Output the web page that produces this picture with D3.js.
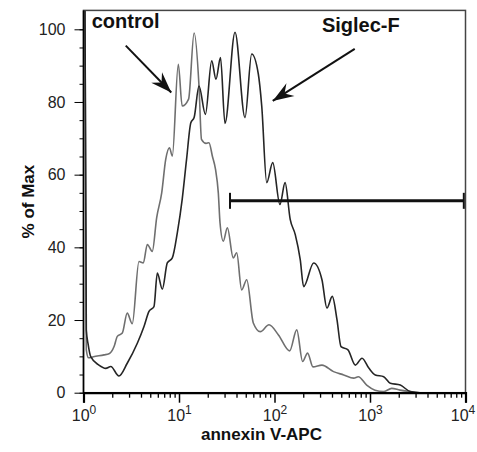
<!DOCTYPE html>
<html>
<head>
<meta charset="utf-8">
<script src="https://cdn.jsdelivr.net/npm/d3@7"></script>
<style>
  body { margin: 0; background: #fff; }
  svg text { font-family: "Liberation Sans", Arial, sans-serif; }
</style>
</head>
<body>
<div id="chart"></div>
<script>
// histogram de annexin V-APC, % of Max
var controlData = [
  [1.02,150],[1.07,11.8],[1.13,9.6],[1.27,9.9],[1.64,10.4],[1.85,10.7],[2.09,12.7],[2.26,15.5],
  [2.55,16.4],[2.87,21.9],[3.24,19.0],[3.81,36.1],[4.23,35.7],[4.66,40.8],[5.25,38.9],[5.84,48.2],
  [6.59,55.0],[7.26,64.2],[7.95,67.4],[8.51,65.1],[9.83,90.4],[10.8,78.9],[12.6,80.8],[14.4,99.0],
  [16.2,84.4],[17.2,69.7],[19.2,68.6],[20.6,68.8],[22.4,65.0],[24.1,61.5],[25.8,55.0],[26.9,46.7],
  [29.1,41.7],[32.1,45.4],[37.0,37.1],[40.2,38.5],[45.3,28.3],[51.2,31.1],[60.0,19.2],[71.0,16.8],
  [87.6,18.7],[110,15.9],[144,11.5],[171,17.3],[197,8.6],[222,10.9],[253,7.1],[314,7.6],
  [415,5.8],[530,4.9],[675,4.0],[754,4.4],[923,2.1],[1128,0.7],[1385,0.3],[1688,1.2],
  [2061,0.7],[2624,0.3],[3339,0],[9880,0]
];

var siglecData = [
  [1.02,150],[1.07,17.3],[1.12,13.2],[1.19,9.9],[1.45,7.6],[1.71,6.7],[1.93,7.2],[2.35,4.6],
  [2.87,8.1],[3.66,13.6],[4.30,18.2],[4.85,22.4],[5.47,23.7],[5.93,32.9],[6.69,28.5],[7.54,35.7],
  [8.51,37.1],[9.60,44.0],[10.8,53.2],[12.0,64.2],[13.3,74.3],[14.4,75.7],[16.2,84.4],[18.9,76.6],
  [22.0,91.3],[24.4,86.3],[27.2,92.2],[30.3,74.1],[38.6,99.2],[49.1,75.7],[57.7,93.2],[67.7,87.7],
  [73.5,78.9],[82.9,57.8],[95.8,63.3],[114,51.8],[129,57.8],[146,47.7],[165,43.5],[186,36.6],
  [202,29.2],[257,35.7],[314,31.1],[354,23.3],[403,26.5],[451,20.1],[497,12.7],[588,11.8],
  [702,7.6],[825,9.5],[976,6.7],[1136,4.9],[1392,4.4],[1632,2.6],[2077,2.1],[2642,0.3],
  [3339,0],[9880,0]
];

var yTicks = [0, 20, 40, 60, 80, 100];
var xTicks = [1, 10, 100, 1000, 10000];
var xExponents = ["0", "1", "2", "3", "4"];

// gate (barra horizontal) y anotaciones
var gate = { x1: 34.2, x2: 9600, y: 52.8 };
var labels = [
  { text: "control", x: 1.22, y: 100.3 },
  { text: "Siglec-F", x: 314, y: 99.2 }
];
var arrows = [
  { x1: 2.77, y1: 95.5, x2: 8.3, y2: 82.6 },
  { x1: 692, y1: 94.6, x2: 95.8, y2: 80.3 }
];

var width = 477, height = 452;

var svg = d3.select("#chart").append("svg")
    .attr("width", width)
    .attr("height", height);

var x = d3.scaleLog().domain([1, 10000]).range([83.5, 465.5]);
var y = d3.scaleLinear().domain([0, 100]).range([392.7, 29.3]);
var yTop = y(105.2);

svg.append("defs").append("clipPath").attr("id", "plotClip")
  .append("rect")
    .attr("x", x(1))
    .attr("y", yTop)
    .attr("width", x(10000) - x(1))
    .attr("height", y(0) - yTop);

// marco
svg.append("rect")
    .attr("x", x(1))
    .attr("y", yTop)
    .attr("width", x(10000) - x(1))
    .attr("height", y(0) - yTop)
    .style("fill", "none")
    .style("stroke", "#444")
    .style("stroke-width", 1.5);

// curvas
var line = d3.line()
    .x(function (d) { return x(d[0]); })
    .y(function (d) { return y(d[1]); })
    .curve(d3.curveMonotoneX);

var plot = svg.append("g").attr("clip-path", "url(#plotClip)");

plot.append("path")
    .datum(controlData)
    .attr("d", line)
    .style("fill", "none")
    .style("stroke", "#6f6f6f")
    .style("stroke-width", 1.6);

plot.append("path")
    .datum(siglecData)
    .attr("d", line)
    .style("fill", "none")
    .style("stroke", "#252525")
    .style("stroke-width", 1.6);

// eje y
var yMinor = svg.append("g")
    .attr("transform", "translate(" + x(1) + ",0)")
    .call(d3.axisLeft(y).tickValues(d3.range(0, 101, 5)).tickSize(4).tickFormat(""));
yMinor.select(".domain").remove();

var yAxis = svg.append("g")
    .attr("transform", "translate(" + x(1) + ",0)")
    .call(d3.axisLeft(y).tickValues(yTicks).tickSize(9).tickPadding(9));
yAxis.select(".domain").attr("d", "M0," + y(0) + "V" + yTop).style("stroke-width", 1.5);
yAxis.selectAll("text").style("font-size", "16px").style("fill", "#222");

// eje x
var minorX = [];
[1, 10, 100, 1000].forEach(function (dec) {
    for (var k = 2; k <= 9; k++) minorX.push(dec * k);
});

var xMinor = svg.append("g")
    .attr("transform", "translate(0," + y(0) + ")")
    .call(d3.axisBottom(x).tickValues(minorX).tickSize(5).tickFormat(""));
xMinor.select(".domain").remove();
xMinor.selectAll("line").style("stroke-width", 1.3);

var xAxis = svg.append("g")
    .attr("transform", "translate(0," + y(0) + ")")
    .call(d3.axisBottom(x).tickValues(xTicks).tickSize(10).tickPadding(7).tickFormat(""));
xAxis.select(".domain").style("stroke-width", 2.2);
xAxis.selectAll("line").style("stroke-width", 1.5);

var xLab = xAxis.selectAll(".tick").append("text")
    .attr("y", 28)
    .attr("x", function (d, i) { return i === xTicks.length - 1 ? -3 : 0; })
    .style("fill", "#222")
    .style("font-size", "16px")
    .style("text-anchor", "middle");
xLab.append("tspan").text("10");
xLab.append("tspan")
    .attr("dy", -7)
    .style("font-size", "12px")
    .text(function (d, i) { return xExponents[i]; });

// titulos de ejes
svg.append("text")
    .attr("transform", "translate(34," + ((y(0) + yTop) / 2) + ") rotate(-90)")
    .style("text-anchor", "middle")
    .style("font-weight", "bold")
    .style("font-size", "17px")
    .style("fill", "#111")
    .text("% of Max");

svg.append("text")
    .attr("x", 261.5)
    .attr("y", 440)
    .style("text-anchor", "middle")
    .style("font-weight", "bold")
    .style("font-size", "17px")
    .style("fill", "#111")
    .text("annexin V-APC");

// gate
svg.append("line")
    .attr("x1", x(gate.x1)).attr("x2", x(gate.x2))
    .attr("y1", y(gate.y)).attr("y2", y(gate.y))
    .style("stroke", "#111")
    .style("stroke-width", 3);

svg.selectAll(".gateCap")
    .data([gate.x1, gate.x2])
    .enter().append("line")
    .attr("class", "gateCap")
    .attr("x1", function (d) { return x(d); })
    .attr("x2", function (d) { return x(d); })
    .attr("y1", y(gate.y) - 8)
    .attr("y2", y(gate.y) + 8)
    .style("stroke", "#111")
    .style("stroke-width", 2);

// flechas
svg.select("defs").append("marker")
    .attr("id", "head")
    .attr("markerUnits", "userSpaceOnUse")
    .attr("viewBox", "-22 -9 24 18")
    .attr("refX", 0).attr("refY", 0)
    .attr("markerWidth", 24).attr("markerHeight", 18)
    .attr("orient", "auto")
  .append("path")
    .attr("d", "M0,0 L-21,-7.5 L-14,0 L-21,7.5 Z")
    .style("fill", "#111");

svg.selectAll(".arrow")
    .data(arrows)
    .enter().append("line")
    .attr("class", "arrow")
    .attr("x1", function (d) { return x(d.x1); })
    .attr("y1", function (d) { return y(d.y1); })
    .attr("x2", function (d) { return x(d.x2); })
    .attr("y2", function (d) { return y(d.y2); })
    .style("stroke", "#111")
    .style("stroke-width", 2)
    .attr("marker-end", "url(#head)");

svg.selectAll(".lbl")
    .data(labels)
    .enter().append("text")
    .attr("class", "lbl")
    .attr("x", function (d) { return x(d.x); })
    .attr("y", function (d) { return y(d.y); })
    .style("font-weight", "bold")
    .style("font-size", "20px")
    .style("fill", "#111")
    .text(function (d) { return d.text; });
</script>
</body>
</html>
